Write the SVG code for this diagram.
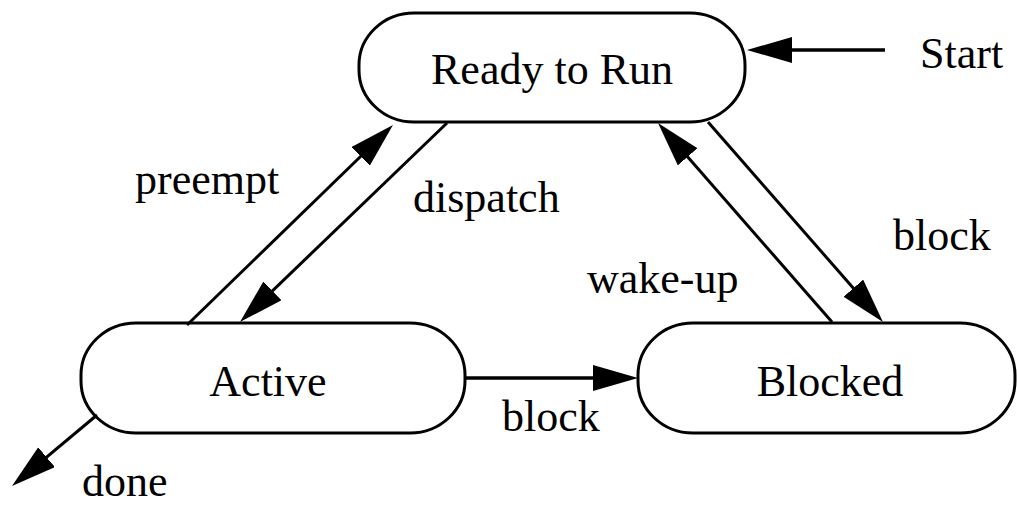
<svg xmlns="http://www.w3.org/2000/svg" width="1017" height="506" viewBox="0 0 1017 506">
<style>
.node{fill:#fff;stroke:#000;stroke-width:3}
.t{font-family:"Liberation Serif","Times New Roman",serif;font-size:44px;fill:#000}
.c{stroke:#000;stroke-width:3;fill:none;marker-end:url(#ah)}
.h{stroke-width:3.6}
</style>
<defs>
<marker id="ah" markerUnits="userSpaceOnUse" markerWidth="50" markerHeight="30" refX="35" refY="13" orient="auto">
<path d="M0,0 L45,13 L0,26 Z" fill="#000"/>
</marker>
</defs>
<g id="ready">
<rect class="node" x="359" y="13" width="386" height="109" rx="55" ry="52"/>
<text class="t" x="552" y="84" text-anchor="middle">Ready to Run</text>
</g>
<g id="active">
<rect class="node" x="81" y="323" width="384" height="110" rx="55" ry="52"/>
<text class="t" x="268" y="396" text-anchor="middle">Active</text>
</g>
<g id="blocked">
<rect class="node" x="638" y="323" width="377" height="110" rx="55" ry="52"/>
<text class="t" x="830" y="396" text-anchor="middle">Blocked</text>
</g>
<g id="connectors">
<line class="c h" x1="885" y1="50" x2="757" y2="50"/>
<line class="c h" x1="465" y1="378" x2="628" y2="378"/>
<line class="c" x1="97" y1="415" x2="19.7" y2="479.6"/>
<line class="c" x1="187" y1="325" x2="385.8" y2="132"/>
<line class="c" x1="447" y1="123" x2="247.2" y2="315.1"/>
<line class="c" x1="832" y1="322" x2="664.6" y2="130.5"/>
<line class="c" x1="708" y1="122" x2="876.4" y2="314.5"/>
</g>
<g id="labels">
<text class="t" x="920" y="68">Start</text>
<text class="t" x="135" y="194">preempt</text>
<text class="t" x="413" y="212">dispatch</text>
<text class="t" x="587" y="293">wake-up</text>
<text class="t" x="893" y="250">block</text>
<text class="t" x="502" y="431">block</text>
<text class="t" x="82" y="496">done</text>
</g>
</svg>
